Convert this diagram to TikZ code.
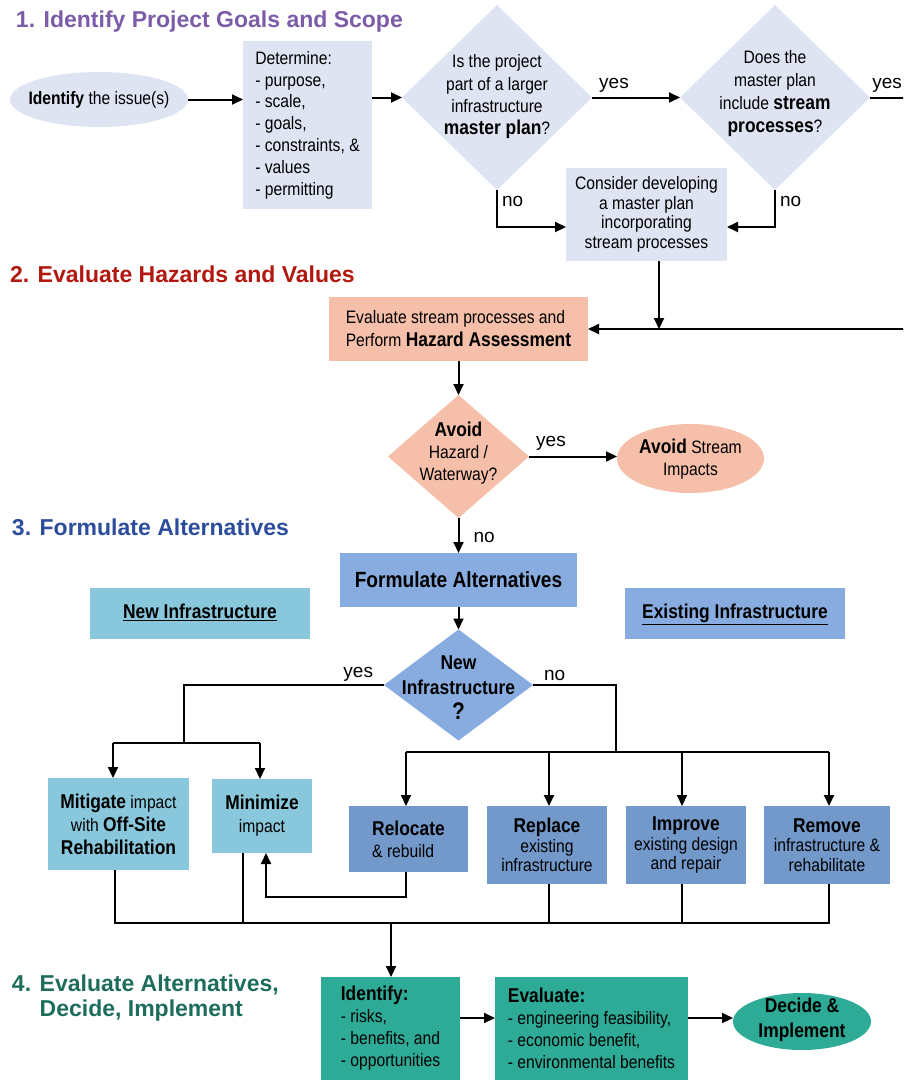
\documentclass[tikz,border=0pt]{standalone}
\usepackage{fontspec}
\setmainfont{Liberation Sans}
\newfontfamily\nar{Liberation Sans}[FakeStretch=0.87]
\usetikzlibrary{shapes.geometric,arrows.meta}
\definecolor{lav}{HTML}{DFE4F3}
\definecolor{salmon}{HTML}{F5BFA9}
\definecolor{lteal}{HTML}{89C8DC}
\definecolor{lblue}{HTML}{89ACE0}
\definecolor{dblue}{HTML}{7399CB}
\definecolor{tealb}{HTML}{2EAB97}
\definecolor{tpurple}{HTML}{7C5CA8}
\definecolor{tred}{HTML}{B2180F}
\definecolor{tblue}{HTML}{2C4C9C}
\definecolor{tgreen}{HTML}{1E6D5C}
\newcommand\myb[1]{{\fontsize{20}{22}\selectfont\bfseries #1}}
\begin{document}
\begin{tikzpicture}[x=1pt,y=-1pt,
  every node/.style={inner sep=0pt, outer sep=0pt},
  base/.style={font=\nar\fontsize{18}{22}\selectfont, align=center, text=black},
  box/.style={base, rectangle},
  ellshape/.style={ellipse, inner sep=0pt},
  dia/.style={diamond, aspect=1, inner sep=0pt},
  sz/.style 2 args={minimum width=#1, minimum height=#2},
  ttl/.style={font=\fontsize{23}{25}\selectfont\bfseries, anchor=base west, align=left},
  lbl/.style={font=\fontsize{19}{22}\selectfont},
  hdr/.style={font=\nar\fontsize{20}{22}\selectfont\bfseries, text height=15pt, text depth=5pt},
  ln/.style={line width=2pt},
  arr/.style={line width=2pt, -{Triangle[length=11pt,width=10pt]}}]
\clip (0,0) rectangle (903,1082);

% titles
\node[ttl, text=tpurple] (t1) at (16,27) {1. Identify Project Goals and Scope};
\node[ttl, text=tred] (t2) at (10,282) {2. Evaluate Hazards and Values};
\node[ttl, text=tblue] (t3) at (12,535) {3. Formulate Alternatives};
\node[ttl, text=tgreen] (t4) at (12,1016) {4. Evaluate Alternatives,\\\phantom{4. }Decide, Implement};

% section 1
\node[ellshape, fill=lav, sz={178}{55}] (issue) at (99,99.5) {};
\node[base] (issuet) at (99,99.5) {\textbf{Identify} the issue(s)};
\node[box, fill=lav, sz={129}{168}, align=left, font=\nar\fontsize{18}{21.8}\selectfont] (det) at (307.5,125) {Determine:\\- purpose,\\- scale,\\- goals,\\- constraints, \&\\- values\\- permitting};
\node[dia, fill=lav, sz={190}{185}] (d1) at (497,97.5) {};
\node[base, font=\nar\fontsize{18}{22.3}\selectfont] (d1t) at (497,97) {Is the project\\part of a larger\\infrastructure\\\myb{master plan}?};
\node[dia, fill=lav, sz={190}{185}] (d2) at (775,97.5) {};
\node[base, font=\nar\fontsize{18}{23}\selectfont] (d2t) at (775,94) {Does the\\master plan\\include \myb{stream}\\\myb{processes}?};
\node[box, fill=lav, sz={161}{93}, font=\nar\fontsize{18}{19.5}\selectfont] (cons) at (646.5,214.5) {Consider developing\\a master plan\\incorporating\\stream processes};

% section 2
\node[box, fill=salmon, sz={259}{64}, align=left, font=\nar\fontsize{18}{23}\selectfont] (eval) at (458.5,329) {Evaluate stream processes and\\Perform \myb{Hazard Assessment}};
\node[dia, fill=salmon, sz={141}{123}] (avoid) at (458.5,456.5) {};
\node[base] (avoidt) at (458.5,453) {\myb{Avoid}\\Hazard /\\Waterway?};
\node[ellshape, fill=salmon, sz={147}{69}] (avimp) at (690.5,458.5) {};
\node[base] (avimpt) at (690.5,459) {\myb{Avoid} Stream\\Impacts};

% section 3
\node[box, fill=lblue, sz={237}{54}, font=\nar\fontsize{22}{24}\selectfont\bfseries] (form) at (458.5,580) {Formulate Alternatives};
\node[box, fill=lteal, sz={220}{51}, hdr] (newinf) at (200,613.5) {\underline{New Infrastructure}};
\node[box, fill=lblue, sz={220}{51}, hdr] (exinf) at (735,613.5) {\underline{Existing Infrastructure}};
\node[dia, fill=lblue, sz={149}{111}] (d3) at (458.5,685) {};
\node[base, font=\nar\fontsize{20}{25}\selectfont\bfseries] (d3t) at (458.5,688) {New\\Infrastructure\\{\fontsize{24}{25}\selectfont ?}};

\node[box, fill=lteal, sz={141}{92}, font=\nar\fontsize{18}{23}\selectfont] (mit) at (118.5,824) {\myb{Mitigate} impact\\with \myb{Off-Site}\\\myb{Rehabilitation}};
\node[box, fill=lteal, sz={100}{74}, font=\nar\fontsize{18}{23}\selectfont] (min) at (262,816) {\myb{Minimize}\\impact};
\node[box, fill=dblue, sz={119}{66}, align=left] (reloc) at (408.5,839) {\myb{Relocate}\\\& rebuild};
\node[box, fill=dblue, sz={120}{78}, font=\nar\fontsize{18}{19.5}\selectfont] (repl) at (547,845) {\myb{Replace}\\existing\\infrastructure};
\node[box, fill=dblue, sz={120}{78}, font=\nar\fontsize{18}{19.5}\selectfont] (impr) at (686,845) {\myb{Improve}\\existing design\\and repair};
\node[box, fill=dblue, sz={126}{78}, font=\nar\fontsize{18}{19.5}\selectfont] (remv) at (827,845) {\myb{Remove}\\infrastructure \&\\rehabilitate};

% section 4
\node[box, fill=tealb, sz={139}{103}, align=left] (ident) at (390.5,1028.5) {\myb{Identify:}\\- risks,\\- benefits, and\\- opportunities};
\node[box, fill=tealb, sz={193}{103}, align=left] (evalb) at (591.5,1028.5) {\myb{Evaluate:}\\- engineering feasibility,\\- economic benefit,\\- environmental benefits};
\node[ellshape, fill=tealb, sz={138}{57}] (decide) at (802,1021.5) {};
\node[base, font=\nar\fontsize{20}{25}\selectfont\bfseries] (decidet) at (802,1020) {Decide \&\\Implement};

% coordinates
\coordinate (r1) at (915,97.5);
\coordinate (j1) at (659,329);
\coordinate (ya) at (184,743);
\coordinate (mitin) at (113,743);
\coordinate (minin) at (260,743);
\coordinate (na) at (616,752);
\coordinate (rl) at (406,752);
\coordinate (rp) at (549,752);
\coordinate (ri) at (682,752);
\coordinate (rr) at (829,752);
\coordinate (lb) at (406,897);
\coordinate (bl) at (115,923);
\coordinate (bmin) at (243,923);
\coordinate (brp) at (549,923);
\coordinate (bri) at (682,923);
\coordinate (br) at (829,923);
\coordinate (bm) at (391,923);

% connectors section 1
\draw[arr] (issue.east) -- (issue.east -| det.west);
\draw[arr] (det.east |- d1.west) -- (d1.west);
\draw[arr] (d1.east) -- node[lbl, pos=0.25, above=5pt] {yes} (d2.west);
\draw[ln] (d2.east) -- node[lbl, pos=0.05, anchor=south west, yshift=5pt] {yes} (r1);
\draw[arr] (r1) |- (eval.east);
\draw[arr] (d1.south) -- node[lbl, pos=0.3, right=5pt] {no} (d1.south |- 0,227) -- (cons.west |- 0,227);
\draw[arr] (d2.south) -- node[lbl, pos=0.3, right=5pt] {no} (d2.south |- 0,227) -- (cons.east |- 0,227);
\draw[arr] (cons.south -| j1) -- (j1);

% section 2
\draw[arr] (eval.south) -- (avoid.north);
\draw[arr] (avoid.east) -- node[lbl, pos=0.25, above=6pt] {yes} (avoid.east -| avimp.west);
\draw[arr] (avoid.south) -- node[lbl, pos=0.55, right=15pt] {no} (form.north);

% section 3
\draw[arr] (form.south) -- (d3.north);
\draw[ln] (d3.west) -| (ya);
\node[lbl, anchor=south east] (yes3) at ([xshift=-11pt, yshift=4pt]d3.west) {yes};
\draw[ln] (mitin) -- (minin);
\draw[arr] (mitin) -- (mitin |- mit.north);
\draw[arr] (minin) -- (minin |- min.north);
\draw[ln] (d3.east) -| (na);
\node[lbl, anchor=south west] (no3) at ([xshift=11pt, yshift=4pt]d3.east) {no};
\draw[ln] (rl) -- (rr);
\draw[arr] (rl) -- (rl |- reloc.north);
\draw[arr] (rp) -- (rp |- repl.north);
\draw[arr] (ri) -- (ri |- impr.north);
\draw[arr] (rr) -- (rr |- remv.north);
\draw[arr] (reloc.south -| lb) -- (lb) -| (min.south -| 266,0);

\draw[ln] (mit.south -| bl) -- (bl) -- (br) -- (remv.south -| br);
\draw[ln] (min.south -| bmin) -- (bmin);
\draw[ln] (repl.south -| brp) -- (brp);
\draw[ln] (impr.south -| bri) -- (bri);
\draw[arr] (bm) -- (bm |- ident.north);

% section 4
\draw[arr] (ident.east |- 0,1018) -- (evalb.west |- 0,1018);
\draw[arr] (evalb.east |- 0,1018) -- (decide.west |- 0,1018);
\end{tikzpicture}
\end{document}
